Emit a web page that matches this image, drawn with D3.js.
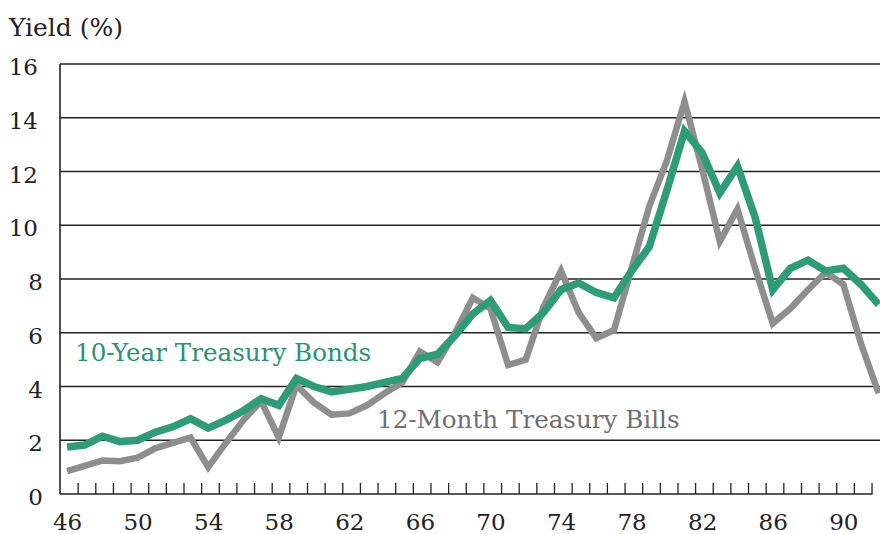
<!DOCTYPE html>
<html>
<head>
<meta charset="utf-8">
<script src="https://cdn.jsdelivr.net/npm/d3@7"></script>
<style>
  html, body { margin: 0; padding: 0; background: #fff; }
  svg { display: block; }
  text { font-family: "DejaVu Serif", "Liberation Serif", serif; }
</style>
</head>
<body>
<svg id="chart" width="880" height="534"></svg>
<script>
// ---- data ----
const years = [46,47,48,49,50,51,52,53,54,55,56,57,58,59,60,61,62,63,64,65,66,67,68,69,70,
               71,72,73,74,75,76,77,78,79,80,81,82,83,84,85,86,87,88,89,90,91,92];
const bonds10y = [1.75,1.82,2.15,1.95,2.0,2.3,2.5,2.8,2.45,2.75,3.1,3.55,3.3,4.3,4.0,3.8,3.9,4.0,4.15,4.3,
                  5.05,5.2,5.9,6.7,7.2,6.2,6.15,6.75,7.6,7.85,7.5,7.3,8.3,9.2,11.3,13.5,12.7,11.2,12.2,10.3,
                  7.6,8.4,8.7,8.3,8.4,7.8,7.05];
const bills12m = [0.85,1.05,1.25,1.22,1.35,1.7,1.9,2.1,1.0,1.9,2.75,3.45,2.1,4.05,3.4,2.95,3.0,3.3,3.75,4.15,
                  5.3,4.9,6.0,7.3,6.9,4.8,5.0,6.95,8.3,6.75,5.8,6.1,8.4,10.7,12.4,14.6,12.1,9.4,10.6,8.4,
                  6.35,6.9,7.6,8.25,7.8,5.6,3.75];
const yTicks = [0,2,4,6,8,10,12,14,16];
const xLabelYears = [46,50,54,58,62,66,70,74,78,82,86,90];
const minorTickYears = d3.range(46, 92);
const yTitle = "Yield (%)";
const seriesNames = ["10-Year Treasury Bonds", "12-Month Treasury Bills"];

(function () {
// ---- layout ----
const svg = d3.select("#chart");
const mLeft = 60, mRight = 880, mTop = 64, mBottom = 494;
const x = d3.scaleLinear().domain([45.6, 92.08]).range([mLeft, mRight]);
const y = d3.scaleLinear().domain([0, 16]).range([mBottom, mTop]);

const green = "#2e9c78", greenText = "#2a9272";
const gray = "#8e8e8e", grayText = "#6f6f6f";

// gridlines (2..16)
svg.append("g").selectAll("line")
  .data(yTicks.filter(v => v > 0))
  .join("line")
  .attr("x1", mLeft).attr("x2", mRight)
  .attr("y1", d => y(d)).attr("y2", d => y(d))
  .attr("stroke", "#222").attr("stroke-width", 1.4);

// left axis line
svg.append("line")
  .attr("x1", mLeft).attr("x2", mLeft)
  .attr("y1", y(16)).attr("y2", y(0))
  .attr("stroke", "#222").attr("stroke-width", 1.6);

// bottom baseline with small upward ticks
const minorAxis = d3.axisBottom(x)
  .tickValues(minorTickYears.map(v => v + 0.6))
  .tickSize(-11).tickSizeOuter(0).tickFormat("");
const gMinor = svg.append("g").attr("transform", `translate(0,${y(0)})`).call(minorAxis);
gMinor.select(".domain").remove();
gMinor.selectAll(".tick line").attr("stroke", "#222").attr("stroke-width", 1.3);
svg.append("line")
  .attr("x1", mLeft).attr("x2", x(91.6) + 1)
  .attr("y1", y(0)).attr("y2", y(0))
  .attr("stroke", "#222").attr("stroke-width", 1.6);

// x labels
const xAxis = d3.axisBottom(x).tickValues(xLabelYears).tickSize(0).tickFormat(d3.format("d"));
const gx = svg.append("g").attr("transform", `translate(0,${y(0)})`).call(xAxis);
gx.select(".domain").remove();
gx.selectAll("text")
  .attr("y", 36).attr("dy", 0)
  .attr("font-family", "DejaVu Serif").attr("font-size", 23).attr("fill", "#222");

// y labels
svg.append("g").selectAll("text")
  .data(yTicks)
  .join("text")
  .attr("x", d => String(d).length > 1 ? 38 : 43)
  .attr("y", d => y(d) + 11)
  .attr("text-anchor", "end")
  .attr("font-size", 23).attr("fill", "#222")
  .text(d => d);

// title
svg.append("text")
  .attr("x", 9).attr("y", 36)
  .attr("font-size", 25).attr("fill", "#222")
  .text(yTitle);

// lines
const line = d3.line().x((d, i) => x(years[i])).y(d => y(d));
svg.append("path")
  .datum(bills12m)
  .attr("d", line)
  .attr("fill", "none").attr("stroke", gray).attr("stroke-width", 6.5)
  .attr("stroke-linejoin", "miter").attr("stroke-miterlimit", 10);
svg.append("path")
  .datum(bonds10y)
  .attr("d", line)
  .attr("fill", "none").attr("stroke", green).attr("stroke-width", 7.5)
  .attr("stroke-linejoin", "miter").attr("stroke-miterlimit", 4);

// series labels
svg.append("text")
  .attr("x", 75).attr("y", 361)
  .attr("font-size", 24.6).attr("fill", greenText)
  .text(seriesNames[0]);
svg.append("text")
  .attr("x", 377).attr("y", 428)
  .attr("font-size", 24.6).attr("fill", grayText)
  .text(seriesNames[1]);
})();
</script>
</body>
</html>
